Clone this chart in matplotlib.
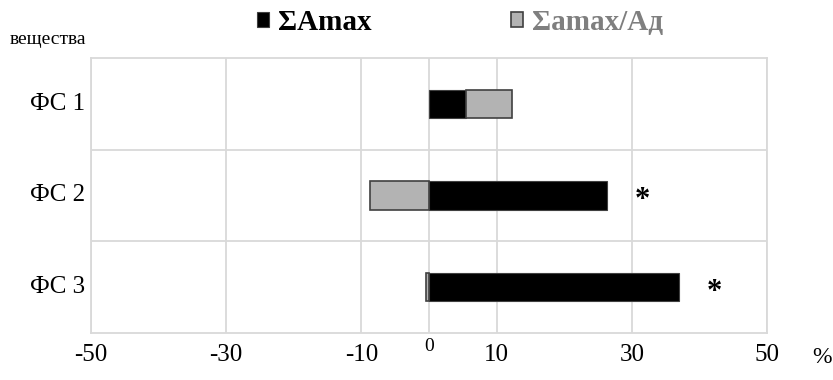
import numpy as np
import matplotlib
matplotlib.use("Agg")
import matplotlib.pyplot as plt

plt.rcParams['font.family'] = ['Liberation Serif', 'DejaVu Serif']

categories = ["ФС 1", "ФС 2", "ФС 3"]
a_max = [5.5, 26.4, 37.0]          # ΣAmax
a_max_ad = [6.8, -8.8, -0.5]       # Σamax/Ад
stars = ["", "*", "*"]
tick_vals = [-50, -30, -10, 0, 10, 30, 50]

fig = plt.figure(figsize=(8.33, 3.8), dpi=100)
ax = fig.add_axes([0.1092, 0.1237, 0.8116, 0.7237])

y = np.arange(len(categories))
h = 0.31
ax.barh(y, a_max, height=h, color="black", edgecolor="#404040", lw=0.8,
        label="ΣAmax", zorder=3)
# gray part stacks after the black one when positive, starts from 0 when negative
left = [a if g > 0 else 0 for a, g in zip(a_max, a_max_ad)]
ax.barh(y, a_max_ad, left=left, height=h, color="#b3b3b3", edgecolor="#404040",
        lw=1.2, label="Σamax/Ад", zorder=3)

for i, s in enumerate(stars):
    if s:
        ax.text(a_max[i] + 5.2, y[i] + 0.06, s, ha="center", va="center",
                fontsize=22, fontweight="bold")

ax.set_xlim(-50, 50)
ax.set_ylim(2.5, -0.5)
ax.set_xticks(tick_vals)
ax.set_yticks([0.5, 1.5])
ax.set_yticklabels([])
ax.set_xticklabels([])
ax.grid(True, color="#d9d9d9", lw=1.3, zorder=0)
ax.tick_params(length=0)
for sp in ax.spines.values():
    sp.set_color("#d9d9d9")
    sp.set_linewidth(1.3)

for i, c in enumerate(categories):
    ax.text(-0.009, y[i], c, transform=ax.get_yaxis_transform(), ha="right",
            va="center", fontsize=18)

for v in tick_vals:
    if v == 0:
        ax.text(v, -0.05, "0", transform=ax.get_xaxis_transform(), ha="center",
                va="center", fontsize=14)
    else:
        ax.text(v, -0.08, str(v), transform=ax.get_xaxis_transform(), ha="center",
                va="center", fontsize=18)
fig.text(0.999, 0.06, "%", ha="right", va="center", fontsize=17)

fig.text(0.012, 0.895, "вещества", ha="left", va="center", fontsize=14)

leg = ax.legend(loc="center", bbox_to_anchor=(0.546, 1.13), ncol=2,
                frameon=False, prop={"size": 21, "weight": "bold"},
                handlelength=0.4, handleheight=0.4, handletextpad=0.3,
                columnspacing=4.8, borderpad=0)
leg.get_texts()[1].set_color("#7f7f7f")

fig.savefig("out.png", dpi=100)
